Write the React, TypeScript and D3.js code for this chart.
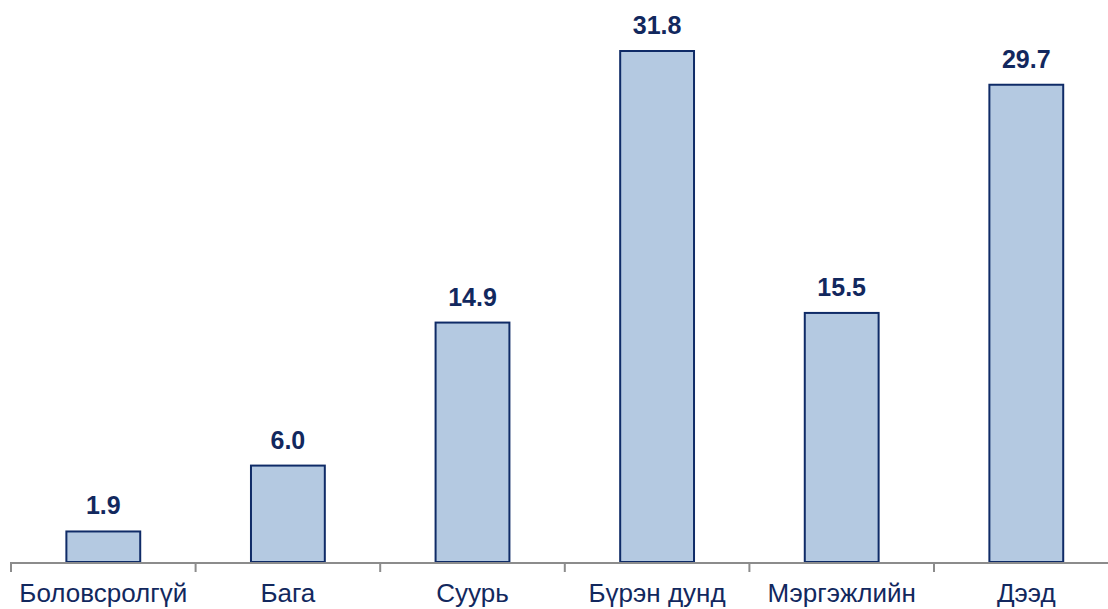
import React from "react";
import * as d3 from "d3";

const categories = ["Боловсролгүй", "Бага", "Суурь", "Бүрэн дунд", "Мэргэжлийн", "Дээд"];
const values = [1.9, 6.0, 14.9, 31.8, 15.5, 29.7];

const W = 1108;
const H = 609;
const baseY = 562;
const x0 = 11;
const band = 184.6;

export default function App() {
  const x = d3
    .scaleBand<string>()
    .domain(categories)
    .range([x0, x0 + band * categories.length])
    .paddingInner(0.6)
    .paddingOuter(0.3);
  const y = d3.scaleLinear().domain([0, 31.8]).range([baseY, 51]);
  const navy = "#0F2B67";
  const textCol = "#12285E";
  const tickXs = categories.map((_, i) => x0 + i * band);
  return (
    <svg width={W} height={H} style={{ position: "absolute", left: 0, top: 0 }}>
      {categories.map((c, i) => {
        const v = values[i];
        const bx = x(c)!;
        const bw = x.bandwidth();
        return (
          <g key={c}>
            <rect x={bx} y={y(v)} width={bw} height={baseY - y(v)} fill="#B4C9E1" stroke={navy} strokeWidth={2} />
            <text
              x={bx + bw / 2}
              y={y(v) - 17}
              textAnchor="middle"
              fontFamily="Liberation Sans, Arial, sans-serif"
              fontWeight="bold"
              fontSize={25}
              fill={textCol}
            >
              {v.toFixed(1)}
            </text>
            <text
              x={bx + bw / 2}
              y={602}
              textAnchor="middle"
              fontFamily="Liberation Sans, Arial, sans-serif"
              fontSize={26}
              fill={textCol}
            >
              {c}
            </text>
          </g>
        );
      })}
      <line x1={x0} x2={W} y1={baseY + 1} y2={baseY + 1} stroke="#8C8C8C" strokeWidth={2} />
      {tickXs.map((tx, i) => (
        <line key={i} x1={tx} x2={tx} y1={baseY} y2={baseY + 10} stroke="#8C8C8C" strokeWidth={2} />
      ))}
    </svg>
  );
}
